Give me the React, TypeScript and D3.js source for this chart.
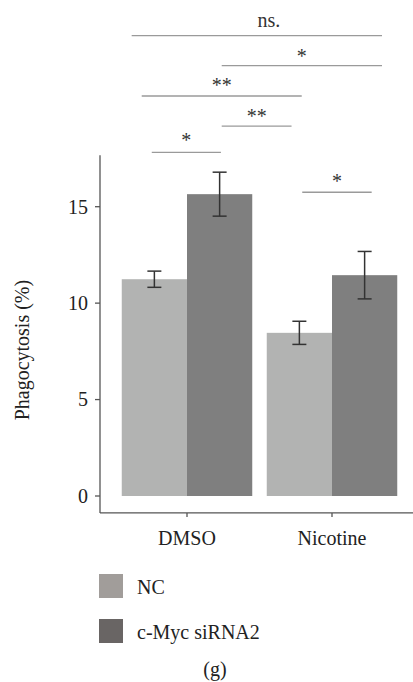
import * as d3 from "d3";

// treatment groups and the two siRNA series
const groups = ["DMSO", "Nicotine"];
const series = ["NC", "c-Myc siRNA2"];

// phagocytosis (%), per group, per series
const ncValues = [11.24, 8.46];
const sirnaValues = [15.65, 11.45];
const ncErrors = [0.42, 0.6];
const sirnaErrors = [1.14, 1.23];

const yTicks = [0, 5, 10, 15];

// significance brackets: from/to are [group index, fraction across group band]
const sigs = [
  { label: "ns.", from: [0, 0.076], to: [1, 0.883], level: 23.87, at: [1, 0.017], dy: -9 },
  { label: "*", from: [0, 0.766], to: [1, 0.883], level: 22.31, dy: -3 },
  { label: "**", from: [0, 0.153], to: [1, 0.268], level: 20.74, dy: -4 },
  { label: "**", from: [0, 0.766], to: [1, 0.19], level: 19.18, dy: -3 },
  { label: "*", from: [0, 0.23], to: [0, 0.76], level: 17.82, dy: -5 },
  { label: "*", from: [1, 0.272], to: [1, 0.804], level: 15.75, dy: -4 },
];

const barColors = ["#b2b3b2", "#7f7f7f"];
const legendColors = ["#a19d9a", "#696564"];

const width = 413;
const height = 682;
const font = "Liberation Serif";
const axisLeft = 100;
const yBottom = -0.88;
const yTop = 17.67;

export default function App() {
  const x = d3.scaleBand()
    .domain(groups)
    .range([axisLeft, 419])
    .paddingInner(0.1)
    .paddingOuter(0.15);
  const xs = d3.scaleBand().domain(series).range([0, x.bandwidth()]);
  const y = d3.scaleLinear().domain([0, 15]).range([496, 206.7]);

  const rows = groups.flatMap((g, i) => [
    { g, s: series[0], v: ncValues[i], e: ncErrors[i] },
    { g, s: series[1], v: sirnaValues[i], e: sirnaErrors[i] },
  ]);
  const pos = (p: number[]) => x(groups[p[0]])! + p[1] * x.bandwidth();
  const axisY = y(yBottom);

  return (
    <svg
      width={width}
      height={height}
      fontFamily={font}
      fontSize={20}
      style={{ position: "absolute", left: 0, top: 0, background: "#fff" }}
    >
      {/* bars */}
      {rows.map(d => (
        <rect
          key={d.g + d.s}
          x={x(d.g)! + xs(d.s)!}
          y={y(d.v)}
          width={xs.bandwidth()}
          height={y(0) - y(d.v)}
          fill={barColors[series.indexOf(d.s)]}
        />
      ))}

      {/* error bars */}
      <g stroke="#333" strokeWidth={1.5}>
        {rows.map(d => {
          const cx = x(d.g)! + xs(d.s)! + xs.bandwidth() / 2;
          const hi = y(d.v + d.e);
          const lo = y(d.v - d.e);
          return (
            <g key={d.g + d.s}>
              <line x1={cx} x2={cx} y1={hi} y2={lo} />
              <line x1={cx - 7} x2={cx + 7} y1={hi} y2={hi} />
              <line x1={cx - 7} x2={cx + 7} y1={lo} y2={lo} />
            </g>
          );
        })}
      </g>

      {/* axes */}
      <g stroke="#555" strokeWidth={1.3}>
        <line x1={axisLeft} x2={axisLeft} y1={y(yTop)} y2={axisY} />
        {yTicks.map(t => (
          <line key={t} x1={axisLeft - 5} x2={axisLeft} y1={y(t)} y2={y(t)} />
        ))}
        <line x1={axisLeft} x2={width} y1={axisY} y2={axisY} />
        {groups.map(g => (
          <line key={g} x1={x(g)! + x.bandwidth() / 2} x2={x(g)! + x.bandwidth() / 2} y1={axisY} y2={axisY + 4} />
        ))}
      </g>
      <g fill="#222">
        {yTicks.map(t => (
          <text key={t} x={axisLeft - 12} y={y(t)} dy="0.34em" textAnchor="end">{t}</text>
        ))}
        {groups.map(g => (
          <text key={g} x={x(g)! + x.bandwidth() / 2} y={axisY + 32} textAnchor="middle">{g}</text>
        ))}
        <text
          transform={`translate(29,${(y(yTop) + axisY) / 2 + 16}) rotate(-90)`}
          textAnchor="middle"
        >
          Phagocytosis (%)
        </text>
      </g>

      {/* significance brackets */}
      {sigs.map((s, i) => {
        const x1 = pos(s.from);
        const x2 = pos(s.to);
        return (
          <g key={i}>
            <line x1={x1} x2={x2} y1={y(s.level)} y2={y(s.level)} stroke="#9a9a9a" strokeWidth={1.3} />
            <text x={s.at ? pos(s.at) : (x1 + x2) / 2} y={y(s.level) + s.dy} textAnchor="middle" fill="#333">
              {s.label}
            </text>
          </g>
        );
      })}

      {/* legend */}
      <g transform="translate(99,574)">
        {series.map((s, i) => (
          <g key={s}>
            <rect x={0} y={i * 45} width={24} height={24} fill={legendColors[i]} />
            <text x={38} y={i * 45 + 20} fill="#222">{s}</text>
          </g>
        ))}
      </g>

      <text x={215} y={676} textAnchor="middle" fill="#222">(g)</text>
    </svg>
  );
}
